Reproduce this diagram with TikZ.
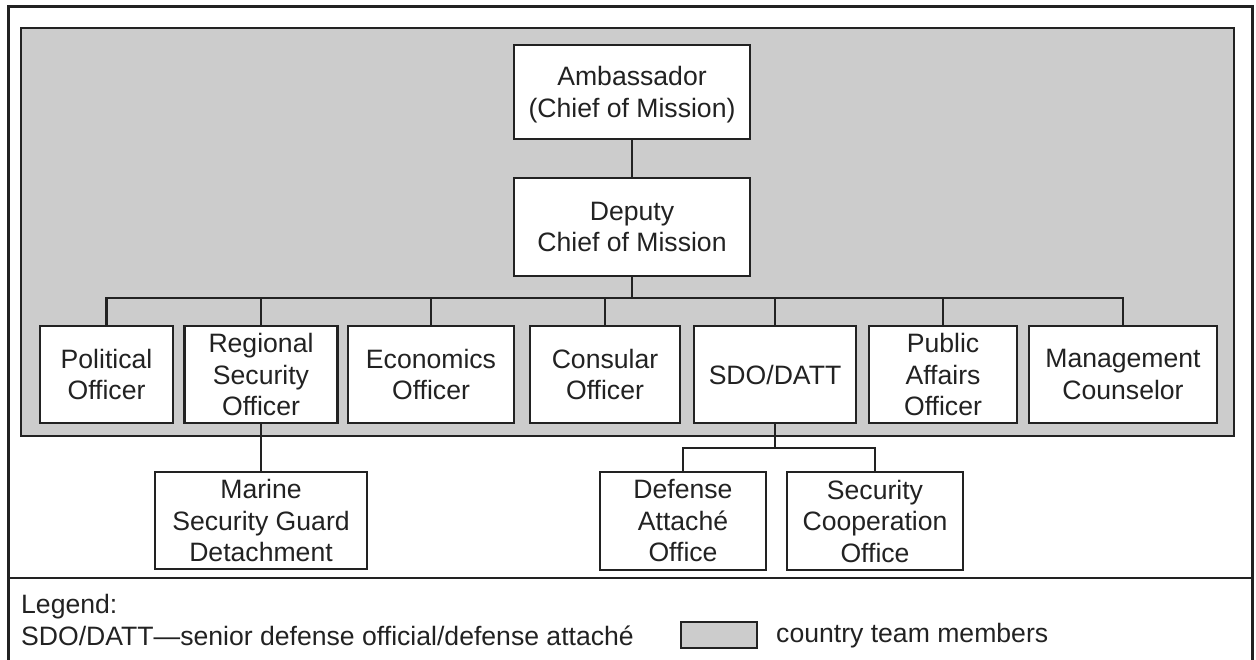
\documentclass[tikz,border=0pt]{standalone}
\usepackage{fontspec}
\setmainfont{Liberation Sans}
\definecolor{ink}{HTML}{222222}
\definecolor{team}{HTML}{CCCCCC}
\begin{document}
\begin{tikzpicture}[x=1pt,y=-1pt,
  every node/.style={font=\fontsize{26.6}{31.5}\selectfont, text=ink},
  box/.style={draw=ink, line width=2.5pt, fill=white, inner sep=0pt, align=center},
  link/.style={draw=ink, line width=2.5pt},
  frame/.style={draw=ink, line width=3pt}]
\useasboundingbox (0,0) rectangle (1256,660);
% outer frame and legend separator
\draw[frame] (8,665) -- (8,7) -- (1252,7) -- (1252,665);
\draw[draw=ink, line width=2.5pt] (8,578) -- (1252,578);
% country team area
\draw[draw=ink, line width=2.5pt, fill=team] (21,28) rectangle (1234,436);
% nodes
\node[box, minimum width=236pt, minimum height=94pt] (amb) at (632,92) {Ambassador\\\smash{(Chief of Mission)}};
\node[box, minimum width=236pt, minimum height=98pt] (dep) at (632,227) {Deputy\\Chief of Mission};
\node[box, minimum width=133pt, minimum height=97pt] (pol) at (106.5,374.5) {Political\\Officer};
\node[box, minimum width=153pt, minimum height=97pt] (reg) at (261,374.5) {Regional\\Security\\Officer};
\node[box, minimum width=166pt, minimum height=97pt] (eco) at (431,374.5) {Economics\\Officer};
\node[box, minimum width=150pt, minimum height=97pt] (con) at (605,374.5) {Consular\\Officer};
\node[box, minimum width=162pt, minimum height=97pt] (sdo) at (775,374.5) {SDO/DATT};
\node[box, minimum width=148pt, minimum height=97pt] (pub) at (943,374.5) {Public\\Affairs\\Officer};
\node[box, minimum width=188pt, minimum height=97pt] (man) at (1123,374.5) {Management\\Counselor};
\node[box, minimum width=212pt, minimum height=97pt] (mar) at (261,520.5) {Marine\\Security Guard\\Detachment};
\node[box, minimum width=166pt, minimum height=98pt] (def) at (683,521) {Defense\\Attach\'e\\Office};
\node[box, minimum width=176pt, minimum height=98pt] (sco) at (875,521) {Security\\Cooperation\\Office};
\coordinate (bus) at (632,298);
\coordinate (sub) at (775,448);
% connectors
\draw[link] (amb.south) -- (dep.north);
\draw[link] (dep.south) -- (bus);
\draw[link] (pol.north) -- (pol.north |- bus) -- (man.north |- bus) -- (man.north);
\foreach \n in {reg,eco,con,sdo,pub} {\draw[link] (\n.north) -- (\n.north |- bus);}
\draw[link] (reg.south) -- (mar.north);
\draw[link] (sdo.south) -- (sub);
\draw[link] (def.north) -- (def.north |- sub) -- (sco.north |- sub) -- (sco.north);
% legend
\node[anchor=base west, inner sep=0pt] (leg) at (21,613) {Legend:};
\node[anchor=base west, inner sep=0pt] (abbr) at (21,645) {SDO/DATT---senior defense official/defense attach\'e};
\node[draw=ink, line width=2.5pt, fill=team, minimum width=76pt, minimum height=26pt, inner sep=0pt] (key) at (719,635) {};
\node[anchor=base west, inner sep=0pt] (keytxt) at (776,642) {country team members};
\end{tikzpicture}
\end{document}
